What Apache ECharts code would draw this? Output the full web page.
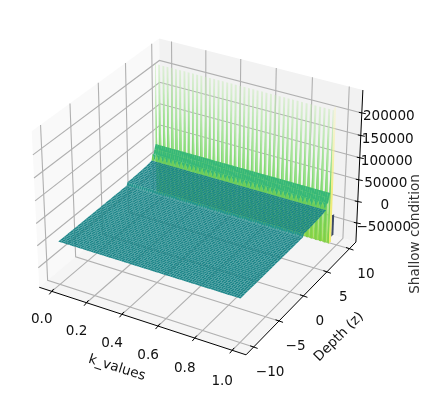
<!DOCTYPE html>
<html>
<head>
<meta charset="utf-8">
<style>
  html, body { margin: 0; padding: 0; background: #fff; }
  #main { width: 424px; height: 398px; }
</style>
<script src="https://cdn.jsdelivr.net/npm/echarts@6/dist/echarts.min.js"></script>
</head>
<body>
<div id="main"></div>
<script>
// tick values and their labels
const kTicks = [0, 0.2, 0.4, 0.6, 0.8, 1];
const kLabels = ["0.0", "0.2", "0.4", "0.6", "0.8", "1.0"];
const depthTicks = [-10, -5, 0, 5, 10];
const depthLabels = ["\u221210", "\u22125", "0", "5", "10"];
const zTicks = [-50000, 0, 50000, 100000, 150000, 200000];
const zLabels = ["\u221250000", "0", "50000", "100000", "150000", "200000"];

// grid of the surface
const kValues = [
  0, 0.012, 0.024, 0.037, 0.049, 0.061, 0.073, 0.085, 0.098, 0.11,
  0.122, 0.134, 0.146, 0.159, 0.171, 0.183, 0.195, 0.207, 0.22, 0.232,
  0.244, 0.256, 0.268, 0.28, 0.293, 0.305, 0.317, 0.329, 0.341, 0.354,
  0.366, 0.378, 0.39, 0.402, 0.415, 0.427, 0.439, 0.451, 0.463, 0.476,
  0.488, 0.5, 0.512, 0.524, 0.537, 0.549, 0.561, 0.573, 0.585, 0.598,
  0.61, 0.622, 0.634, 0.646, 0.659, 0.671, 0.683, 0.695, 0.707, 0.72,
  0.732, 0.744, 0.756, 0.768, 0.78, 0.793, 0.805, 0.817, 0.829, 0.841,
  0.854, 0.866, 0.878, 0.89, 0.902, 0.915, 0.927, 0.939, 0.951, 0.963,
  0.976, 0.988, 1
];
const depthValues = [
  -10, -9.7, -9.4, -9.1, -8.8, -8.5, -8.2, -7.9, -7.6, -7.3,
  -7, -6.7, -6.4, -6.1, -5.8, -5.5, -5.2, -4.9, -4.6, -4.3,
  -4, -3.7, -3.4, -3.1, -2.8, -2.5, -2.2, -1.9, -1.6, -1.3,
  -1, -0.7, -0.4, -0.1, 0.2, 0.5, 0.8, 1.1, 1.4, 1.7,
  2, 2.3, 2.45, 2.6, 2.9, 3.2, 3.5, 3.8, 4.1, 4.4,
  4.7, 5, 5.3, 5.6, 5.9, 6.2, 6.5, 6.8, 7.1, 7.3
];
// shallow condition along depth, the same for every k in this part
const depthProfile = [
  3000, 3000, 3000, 3000, 3000, 3000, 3000, 3000, 3000, 3000,
  3000, 3000, 3000, 3000, 3000, 3000, 3000, 3000, 3000, 3000,
  3000, 3000, 3000, 3000, 3000, 3000, 3000, 3000, 3000, 3000,
  3000, 3000, 3000, 3000, 3000, 3000, 3000, 3000, 3000, 3000,
  3000, 3000, 3000, 9000, 9100, 9200, 9300, 9400, 9500, 9700,
  9900, 10100, 10400, 10700, 11000, 11400, 11900, 12500, 13200, 14000
];
const stepDepth = 2.6;
// rows at the deep end, one value per k
const combDepth = 7.5;
const combRow = [
  28000, 12000, 28000, 12000, 28000, 12000, 28000, 12000, 28000, 12000,
  28000, 12000, 28000, 12000, 28000, 12000, 28000, 12000, 28000, 12000,
  28000, 12000, 28000, 12000, 28000, 12000, 28000, 12000, 28000, 12000,
  28000, 12000, 28000, 12000, 28000, 12000, 28000, 12000, 28000, 12000,
  28000, 12000, 28000, 12000, 28000, 12000, 28000, 12000, 28000, 12000,
  28000, 12000, 28000, 12000, 28000, 12000, 28000, 12000, 28000, 12000,
  28000, 12000, 28000, 12000, 28000, 12000, 28000, 12000, 28000, 12000,
  28000, 12000, 28000, 12000, 28000, 12000, 28000, 12000, 28000, 12000,
  28000, 12000, 28000
];
const bandDepths = [7.7, 7.9, 8.1];
const bandValues = [25000, 35000, 45000];
const spikeDepth = 8.2;
const spikeRow = [
  228000, -73000, 228000, -73000, 228000, -73000, 228000, -73000, 228000, -73000,
  228000, -73000, 228000, -73000, 228000, -73000, 228000, -73000, 228000, -73000,
  228000, -73000, 228000, -73000, 228000, -73000, 228000, -73000, 228000, -73000,
  228000, -73000, 228000, -73000, 228000, -73000, 228000, -73000, 228000, -73000,
  228000, -73000, 228000, -73000, 228000, -73000, 228000, -73000, 228000, -73000,
  228000, -73000, 228000, -73000, 228000, -73000, 228000, -73000, 228000, -73000,
  228000, -73000, 228000, -73000, 228000, -73000, 228000, -73000, 228000, -73000,
  228000, -73000, 228000, -73000, 228000, -73000, 228000, -73000, 228000, -73000,
  228000, -73000, 228000
];
const backDepth = 8.3;
const backValue = -73000;
// the last column, seen edge on, and the dark tail behind it
const edgeDepths = [8.2, 8.7];
const edgeValues = [-73000, 232000];
const tailDepths = [8.7, 9.2];
const tailValues = [-12000, -62000];

// axis limits and camera, as mplot3d has them
const xLim = [-0.073, 1.073];
const yLim = [-11.458, 11.458];
const zLim = [-95000, 250000];
const box = [1.1905, 1.1905, 0.8929];
const U = [0.866, 0.5, 0];
const V = [-0.25, 0.433, 0.866];
const W = [0.433, -0.75, 0.5];
const DIST = 10;
const SCALE = 1990, CX = 200.5, CY = 189;

function toBox(k, d, z) {
  return [
    ((k - xLim[0]) / (xLim[1] - xLim[0]) - 0.5) * box[0],
    ((d - yLim[0]) / (yLim[1] - yLim[0]) - 0.5) * box[1],
    ((z - zLim[0]) / (zLim[1] - zLim[0]) - 0.5) * box[2]
  ];
}
function dot(a, b) { return a[0] * b[0] + a[1] * b[1] + a[2] * b[2]; }
function project(k, d, z) {
  let p = toBox(k, d, z);
  let dist = DIST - dot(W, p);
  return [CX + SCALE * dot(U, p) / dist, CY - SCALE * dot(V, p) / dist];
}
// painter order only looks at the floor position, so tall spikes stay behind the band
function floorDepth(k, d) {
  return dot(W, toBox(k, d, 0));
}

// surface rows, front to back
let rowDepths = [];
let rows = [];
depthValues.forEach((d, j) => {
  rowDepths.push(d);
  rows.push(kValues.map(() => depthProfile[j]));
});
rowDepths.push(combDepth);
rows.push(combRow);
bandDepths.forEach((d, j) => {
  rowDepths.push(d);
  rows.push(kValues.map(() => bandValues[j]));
});
rowDepths.push(spikeDepth);
rows.push(spikeRow);
rowDepths.push(backDepth);
rows.push(kValues.map(() => backValue));

const TEAL = "#1c8689", STEP = "#25958f", COMB = "#6ccd5a", BAND = "#37b878", DARK = "#3d4a66";
const COLUMN_HALF = 0.0055;

// fades out towards the top of a spike: colours at the peak, at the band top and at the bottom
function spikeFill(k, d, peak, top, mid, low) {
  let yTop = project(k, d, peak)[1];
  let yMid = project(k, d, 45000)[1];
  let yLow = project(k, d, backValue)[1];
  return new echarts.graphic.LinearGradient(0, yTop, 0, yLow, [
    { offset: 0, color: top },
    { offset: (yMid - yTop) / (yLow - yTop), color: mid },
    { offset: 1, color: low }
  ], true);
}

function faceColor(max, j, k) {
  if (rowDepths[j + 1] === stepDepth) return STEP;
  if (rowDepths[j + 1] === combDepth) return COMB;
  if (max > 60000) return spikeFill(k, spikeDepth, 228000, "rgba(235,247,225,0.3)", "rgba(150,225,130,0.9)", "#8fd744");
  if (max > 20000) return BAND;
  return TEAL;
}

let faces = [];
for (let j = 0; j < rowDepths.length - 1; j++) {
  for (let i = 0; i < kValues.length - 1; i++) {
    let corners = [
      [kValues[i], rowDepths[j], rows[j][i]],
      [kValues[i + 1], rowDepths[j], rows[j][i + 1]],
      [kValues[i + 1], rowDepths[j + 1], rows[j + 1][i + 1]],
      [kValues[i], rowDepths[j + 1], rows[j + 1][i]]
    ];
    let max = Math.max(corners[0][2], corners[1][2], corners[2][2], corners[3][2]);
    faces.push({
      pts: corners.map((c) => project(c[0], c[1], c[2])),
      depth: floorDepth((kValues[i] + kValues[i + 1]) / 2, (rowDepths[j] + rowDepths[j + 1]) / 2),
      color: faceColor(max, j, kValues[i])
    });
  }
}
// the narrow solid column under each spike
kValues.forEach((k, i) => {
  if (spikeRow[i] <= 0) return;
  let a = Math.max(k - COLUMN_HALF, 0), b = Math.min(k + COLUMN_HALF, 1);
  faces.push({
    pts: [
      project(a, spikeDepth, backValue),
      project(b, spikeDepth, backValue),
      project(b, spikeDepth, spikeRow[i]),
      project(a, spikeDepth, spikeRow[i])
    ],
    depth: floorDepth(k, spikeDepth - 0.02),
    color: spikeFill(k, spikeDepth, spikeRow[i], "rgba(200,235,185,0.5)", "rgba(105,208,100,1)", "#7fd048")
  });
});
let lastK = kValues[kValues.length - 1];
faces.push({
  pts: [
    project(lastK, edgeDepths[0], edgeValues[0]),
    project(lastK, edgeDepths[1], edgeValues[0]),
    project(lastK, edgeDepths[1], edgeValues[1]),
    project(lastK, edgeDepths[0], edgeValues[1])
  ],
  depth: floorDepth(lastK, edgeDepths[0]),
  color: spikeFill(lastK, edgeDepths[0], edgeValues[1], "rgba(250,245,175,0.3)", "rgba(240,236,125,1)", "#eeea70")
});
faces.push({
  pts: [
    project(lastK, tailDepths[0], tailValues[0]),
    project(lastK, tailDepths[1], tailValues[0] - 3000),
    project(lastK, tailDepths[1], tailValues[1]),
    project(lastK, tailDepths[0], tailValues[1])
  ],
  depth: floorDepth(lastK, tailDepths[1]),
  color: DARK
});
faces.sort((a, b) => a.depth - b.depth);

// panes, gridlines, axis lines, ticks
const kMin = xLim[0], kMax = xLim[1], dMin = yLim[0], dMax = yLim[1], zMin = zLim[0], zMax = zLim[1];
const panes = [
  { fill: "#f9f9f9", c: [[kMin, dMin, zMin], [kMin, dMax, zMin], [kMin, dMax, zMax], [kMin, dMin, zMax]] },
  { fill: "#f2f2f2", c: [[kMin, dMax, zMin], [kMax, dMax, zMin], [kMax, dMax, zMax], [kMin, dMax, zMax]] },
  { fill: "#f5f5f5", c: [[kMin, dMin, zMin], [kMax, dMin, zMin], [kMax, dMax, zMin], [kMin, dMax, zMin]] }
];
let gridLines = [];
kTicks.forEach((k) => {
  gridLines.push([[k, dMin, zMin], [k, dMax, zMin], [k, dMax, zMax]]);
});
depthTicks.forEach((d) => {
  gridLines.push([[kMax, d, zMin], [kMin, d, zMin], [kMin, d, zMax]]);
});
zTicks.forEach((z) => {
  gridLines.push([[kMin, dMin, z], [kMin, dMax, z], [kMax, dMax, z]]);
});
const axisLines = [
  [[kMin, dMin, zMin], [kMax, dMin, zMin]],
  [[kMax, dMin, zMin], [kMax, dMax, zMin]],
  [[kMax, dMax, zMin], [kMax, dMax, zMax]]
];

let texts = [];
let ticks = [];
kTicks.forEach((k, i) => {
  let p = project(k, dMin, zMin);
  ticks.push([[p[0] - 2.5, p[1] + 3], [p[0] + 2, p[1] - 2.5]]);
  texts.push({ t: kLabels[i], x: p[0] - 10, y: p[1] + 28 + 3 * k, r: 0 });
});
depthTicks.forEach((d, i) => {
  let p = project(kMax, d, zMin);
  ticks.push([[p[0] - 3.5, p[1] - 1.2], [p[0] + 4, p[1] + 1.4]]);
  texts.push({ t: depthLabels[i], x: p[0] + 16.5, y: p[1] + 25.5, r: 0 });
});
zTicks.forEach((z, i) => {
  let p = project(kMax, dMax, z);
  ticks.push([[p[0] - 3, p[1] - 0.6], [p[0] + 4, p[1] + 0.8]]);
  texts.push({ t: zLabels[i], x: p[0] + 27, y: p[1] + 4, r: 0 });
});
texts.push({ t: "k_values", x: 117, y: 368, r: -17.5 });
texts.push({ t: "Depth (z)", x: 339, y: 337, r: 45 });
texts.push({ t: "Shallow condition", x: 415, y: 234, r: 90 });

function lineSeries(list, color, width, z) {
  return {
    type: "custom",
    coordinateSystem: "cartesian2d",
    silent: true,
    clip: false,
    z: z,
    data: list.map((l, i) => [i]),
    renderItem: function (params, api) {
      let pts = list[params.dataIndex].map((c) => {
        let p = c.length === 3 ? project(c[0], c[1], c[2]) : c;
        return api.coord([p[0], p[1]]);
      });
      return {
        type: "polyline",
        shape: { points: pts },
        style: { stroke: color, lineWidth: width, fill: null }
      };
    }
  };
}

var chartDom = document.getElementById("main");
var myChart = echarts.init(chartDom);
var option = {
  animation: false,
  backgroundColor: "#fff",
  grid: { left: 0, right: 0, top: 0, bottom: 0 },
  xAxis: { type: "value", min: 0, max: 424, show: false },
  yAxis: { type: "value", min: 0, max: 398, inverse: true, show: false },
  series: [
    {
      type: "custom",
      coordinateSystem: "cartesian2d",
      silent: true,
      z: 1,
      data: panes.map((p, i) => [i]),
      renderItem: function (params, api) {
        let pane = panes[params.dataIndex];
        let pts = pane.c.map((c) => {
          let p = project(c[0], c[1], c[2]);
          return api.coord([p[0], p[1]]);
        });
        return { type: "polygon", shape: { points: pts }, style: { fill: pane.fill } };
      }
    },
    lineSeries(gridLines, "#b0b0b0", 1.1, 2),
    lineSeries(axisLines, "#000", 1, 3),
    lineSeries(ticks, "#000", 1, 3),
    {
      type: "custom",
      coordinateSystem: "cartesian2d",
      silent: true,
      clip: false,
      z: 4,
      progressive: 0,
      data: faces.map((f, i) => [i]),
      renderItem: function (params, api) {
        let f = faces[params.dataIndex];
        return {
          type: "polygon",
          shape: { points: f.pts.map((p) => api.coord([p[0], p[1]])) },
          style: { fill: f.color }
        };
      }
    },
    {
      type: "custom",
      coordinateSystem: "cartesian2d",
      silent: true,
      clip: false,
      z: 5,
      data: texts.map((t, i) => [i]),
      renderItem: function (params, api) {
        let t = texts[params.dataIndex];
        let c = api.coord([t.x, t.y]);
        return {
          type: "text",
          x: c[0],
          y: c[1],
          rotation: t.r * Math.PI / 180,
          style: {
            text: t.t,
            x: 0,
            y: 0,
            align: "center",
            verticalAlign: "middle",
            fontFamily: "DejaVu Sans",
            fontSize: 13.6,
            fill: t.r === 90 ? "#333" : "#111"
          }
        };
      }
    }
  ]
};
option && myChart.setOption(option);
</script>
</body>
</html>
